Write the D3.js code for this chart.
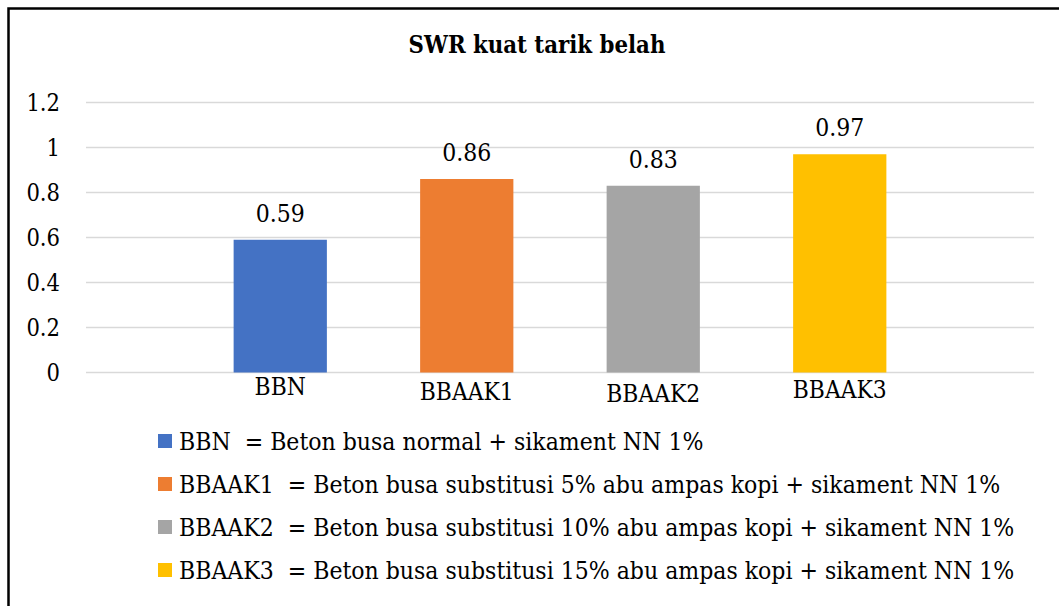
<!DOCTYPE html>
<html>
<head>
<meta charset="utf-8">
<script src="https://cdn.jsdelivr.net/npm/d3@7"></script>
<style>
  body { margin: 0; background: #fff; }
  svg text { font-family: "DejaVu Serif Condensed", "DejaVu Serif", serif; fill: #000; }
</style>
</head>
<body>
<div id="chart"></div>
<script>
// data
var categories = ["BBN", "BBAAK1", "BBAAK2", "BBAAK3"];
var values = [0.59, 0.86, 0.83, 0.97];
var colors = ["#4472C4", "#ED7D31", "#A5A5A5", "#FFC000"];
var yTicks = [0, 0.2, 0.4, 0.6, 0.8, 1, 1.2];
var legendLabels = [
    "BBN  = Beton busa normal + sikament NN 1%",
    "BBAAK1  = Beton busa substitusi 5% abu ampas kopi + sikament NN 1%",
    "BBAAK2  = Beton busa substitusi 10% abu ampas kopi + sikament NN 1%",
    "BBAAK3  = Beton busa substitusi 15% abu ampas kopi + sikament NN 1%"
];
var title = "SWR kuat tarik belah";

// the category labels sit a little uneven in the original
var labelShift = [-3, 2, 4, 0];

var width = 1059, height = 606;

var svg = d3.select("#chart")
    .append("svg")
    .attr("width", width)
    .attr("height", height);

// frame (runs off the right and bottom edge)
svg.append("path")
    .attr("d", "M8.5," + height + " V8.5 H" + width)
    .attr("fill", "none")
    .attr("stroke", "#000")
    .attr("stroke-width", 2.5);

svg.append("text")
    .attr("x", 537)
    .attr("y", 53)
    .attr("text-anchor", "middle")
    .style("font-size", "23.7px")
    .style("font-weight", "bold")
    .text(title);

var y = d3.scaleLinear()
    .domain([0, 1.2])
    .range([372.5, 102.5]);

var x = d3.scaleBand()
    .domain(categories)
    .range([187, 933])
    .paddingInner(0.5)
    .paddingOuter(0.25);

// gridlines
svg.append("g")
    .selectAll("line")
    .data(yTicks)
    .enter()
    .append("line")
    .attr("x1", 86)
    .attr("x2", 1034)
    .attr("y1", function (d) { return y(d); })
    .attr("y2", function (d) { return y(d); })
    .attr("stroke", "#d9d9d9")
    .attr("stroke-width", 1.5);

var yAxis = svg.append("g")
    .attr("transform", "translate(60,0)")
    .call(d3.axisLeft(y).tickValues(yTicks).tickSize(0).tickPadding(0).tickFormat(d3.format("")));
yAxis.select(".domain").remove();
yAxis.selectAll("text")
    .style("font-size", "23.5px")
    .attr("dy", "0.35em");

// bars
svg.append("g")
    .selectAll("rect")
    .data(values)
    .enter()
    .append("rect")
    .attr("x", function (d, i) { return x(categories[i]); })
    .attr("y", function (d) { return y(d); })
    .attr("width", x.bandwidth())
    .attr("height", function (d) { return y(0) - y(d); })
    .attr("fill", function (d, i) { return colors[i]; });

// value labels
svg.append("g")
    .selectAll("text")
    .data(values)
    .enter()
    .append("text")
    .attr("x", function (d, i) { return x(categories[i]) + x.bandwidth() / 2; })
    .attr("y", function (d) { return y(d) - 18; })
    .attr("text-anchor", "middle")
    .style("font-size", "24.5px")
    .text(function (d) { return d; });

// category labels
svg.append("g")
    .selectAll("text")
    .data(categories)
    .enter()
    .append("text")
    .attr("x", function (d) { return x(d) + x.bandwidth() / 2; })
    .attr("y", function (d, i) { return 398 + labelShift[i]; })
    .attr("text-anchor", "middle")
    .style("font-size", "24.3px")
    .text(function (d) { return d; });

// legend
var legend = svg.append("g")
    .selectAll("g")
    .data(legendLabels)
    .enter()
    .append("g")
    .attr("transform", function (d, i) { return "translate(158," + (450 + i * 43) + ")"; });

legend.append("rect")
    .attr("x", 0)
    .attr("y", -16)
    .attr("width", 14)
    .attr("height", 14)
    .attr("fill", function (d, i) { return colors[i]; });

legend.append("text")
    .attr("x", 21)
    .attr("y", 0)
    .style("font-size", "24.5px")
    .style("white-space", "pre")
    .text(function (d) { return d; });
</script>
</body>
</html>
